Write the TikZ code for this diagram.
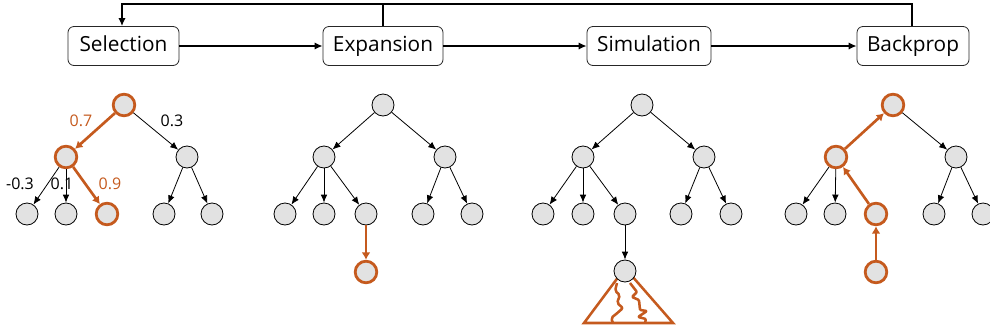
\documentclass[tikz,border=0pt]{standalone}
\usepackage{fontspec}
\setmainfont{Open Sans}
\usetikzlibrary{arrows.meta}
\definecolor{rust}{HTML}{C55A1E}
\definecolor{nodefill}{HTML}{E2E2E2}
\tikzset{
  box/.style={draw=black!85,line width=0.6pt,rounded corners=4.5pt,fill=white,minimum height=29.25pt,inner sep=0pt,text height=11.5pt,text depth=2.6pt,font=\fontsize{15.6}{18}\selectfont},
  tn/.style={circle,draw=black,line width=0.6pt,fill=nodefill,minimum size=16.5pt,inner sep=0pt},
  hn/.style={circle,draw=rust,line width=2.1pt,fill=nodefill,minimum size=16.2pt,inner sep=0pt},
  flow/.style={draw=black,line width=1.05pt,-{Latex[length=6pt,width=5.5pt]}},
  link/.style={draw=black,line width=0.6pt,-{Latex[length=6pt,width=5pt]}},
  hot/.style={draw=rust,line width=2pt,-{Latex[length=5.5pt,width=6.5pt]}},
  lab/.style={inner sep=0pt,font=\fontsize{12}{14}\selectfont},
  hlab/.style={lab,text=rust},
  wig/.style={draw=rust,line width=1.9pt,line join=round},
}
\begin{document}
\begin{tikzpicture}[x=0.75pt,y=-0.75pt]
\useasboundingbox (0,0) rectangle (990,333);
% process boxes
\node[box,minimum width=83.25pt] (sel) at (123.5,46) {Selection};
\node[box,minimum width=90pt] (exp) at (383,46) {Expansion};
\node[box,minimum width=93pt] (sim) at (649,46) {Simulation};
\node[box,minimum width=84pt] (bac) at (913,46) {Backprop};
\coordinate (tl) at (122,4);
\coordinate (tm) at (383,4);
\coordinate (tr) at (912,4);
\draw[flow] (sel) -- (exp);
\draw[flow] (exp) -- (sim);
\draw[flow] (sim) -- (bac);
\draw[flow] (bac.north -| tr) -- (tr) -- (tl) -- (sel.north -| tl);
\draw[draw=black,line width=1.05pt] (exp.north -| tm) -- (tm);
% tree 1
\node[hn] (ar) at (124,105) {};
\node[hn] (aa) at (66,157) {};
\node[tn] (ab) at (187,157) {};
\node[tn] (a1) at (27,214) {};
\node[tn] (a2) at (66,214) {};
\node[hn] (a3) at (107,214) {};
\node[tn] (a4) at (164,214) {};
\node[tn] (a5) at (212,214) {};
\draw[hot] (ar) -- (aa);
\draw[link] (ar) -- (ab);
\draw[link] (aa) -- (a1);
\draw[link] (aa) -- (a2);
\draw[hot] (aa) -- (a3);
\draw[link] (ab) -- (a4);
\draw[link] (ab) -- (a5);
\node[hlab] (l07) at (81,121) {0.7};
\node[lab] (l03) at (172,121) {0.3};
\node[lab] (l3n) at (20,184) {-0.3};
\node[lab] (l01) at (62,184) {0.1};
\node[hlab] (l09) at (110,184) {0.9};
% tree 2
\node[tn] (br) at (383,105) {};
\node[tn] (ba) at (324,157) {};
\node[tn] (bb) at (445,157) {};
\node[tn] (b1) at (285,214) {};
\node[tn] (b2) at (324,214) {};
\node[tn] (b3) at (366,214) {};
\node[tn] (b4) at (423,214) {};
\node[tn] (b5) at (472,214) {};
\node[hn] (b6) at (366,272) {};
\draw[link] (br) -- (ba);
\draw[link] (br) -- (bb);
\draw[link] (ba) -- (b1);
\draw[link] (ba) -- (b2);
\draw[link] (ba) -- (b3);
\draw[link] (bb) -- (b4);
\draw[link] (bb) -- (b5);
\draw[hot] (b3) -- (b6);
% tree 3: rollout triangle first, so that the node covers its apex
\coordinate (tla) at (584,323);
\coordinate (tra) at (673,323);
\coordinate (tap) at (625,268);
\draw[wig,line join=miter] (tap) -- (tla) -- (tra) -- cycle;
\draw[wig,rounded corners=1.5pt] (617,283) -- (615,291) -- (620,295) -- (617,303) -- (623,308) -- (615,315) -- (611,318) -- (613,323);
\draw[wig,rounded corners=0.8pt] (630,283) -- (637,292) -- (632,297) -- (639,300) -- (640,310) -- (647,311) -- (638,317) -- (646,319) -- (645,323);
\node[tn] (cr) at (642,105) {};
\node[tn] (ca) at (583,157) {};
\node[tn] (cb) at (704,157) {};
\node[tn] (c1) at (543,214) {};
\node[tn] (c2) at (583,214) {};
\node[tn] (c3) at (625,214) {};
\node[tn] (c4) at (681,214) {};
\node[tn] (c5) at (731,214) {};
\node[tn] (c6) at (625,271) {};
\draw[link] (cr) -- (ca);
\draw[link] (cr) -- (cb);
\draw[link] (ca) -- (c1);
\draw[link] (ca) -- (c2);
\draw[link] (ca) -- (c3);
\draw[link] (cb) -- (c4);
\draw[link] (cb) -- (c5);
\draw[link] (c3) -- (c6);
% tree 4
\node[hn] (dr) at (893,105) {};
\node[hn] (da) at (836,157) {};
\node[tn] (db) at (956,157) {};
\node[tn] (d1) at (796,214) {};
\node[tn] (d2) at (835,214) {};
\node[hn] (d3) at (876,214) {};
\node[tn] (d4) at (934,214) {};
\node[tn] (d5) at (983,214) {};
\node[hn] (d6) at (876,272) {};
\draw[hot] (da) -- (dr);
\draw[link] (dr) -- (db);
\draw[link] (da) -- (d1);
\draw[link] (da) -- (d2);
\draw[hot] (d3) -- (da);
\draw[link] (db) -- (d4);
\draw[link] (db) -- (d5);
\draw[hot] (d6) -- (d3);
\end{tikzpicture}
\end{document}
